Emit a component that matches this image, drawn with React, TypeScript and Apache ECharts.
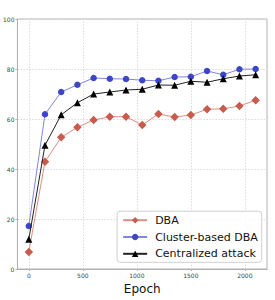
import React, { useEffect, useRef } from "react";
import * as echarts from "echarts";

const epochs = [0, 150, 300, 450, 600, 750, 900, 1050, 1200, 1350, 1500, 1650, 1800, 1950, 2100];
const dba = [6.8, 42.9, 52.7, 56.7, 59.6, 60.9, 60.9, 57.6, 62.0, 60.8, 61.6, 63.9, 64.1, 65.2, 67.5];
const clusterDba = [17.2, 61.9, 70.8, 73.7, 76.4, 76.1, 76.0, 75.5, 75.3, 76.8, 76.9, 79.2, 77.7, 79.9, 80.0];
const centralized = [11.9, 49.5, 61.7, 66.5, 70.0, 70.8, 71.6, 71.9, 73.6, 73.5, 75.1, 74.7, 76.1, 77.2, 77.7];
const xTicks = [0, 500, 1000, 1500, 2000];
const seriesNames = ["DBA", "Cluster-based DBA", "Centralized attack"];

const pairs = (ys: number[]) => epochs.map((x, i) => [x, ys[i]]);

export default function App() {
  const ref = useRef<HTMLDivElement>(null);
  useEffect(() => {
    if (!ref.current) return;
    const chart = echarts.init(ref.current, null, { renderer: "svg" });
    const font = "DejaVu Sans";
    const gridLine = { color: "#dcdcdc", type: [1.5, 1.5] as any, width: 1 };
    chart.setOption({
      animation: false,
      backgroundColor: "#ffffff",
      textStyle: { fontFamily: font },
      grid: {
        left: 15.5,
        top: 19,
        right: 8,
        bottom: 31,
        show: true,
        borderColor: "#b0b0b0",
        borderWidth: 1,
      },
      xAxis: {
        type: "value",
        min: -105,
        max: 2205,
        name: "Epoch",
        nameLocation: "middle",
        nameGap: 7,
        nameTextStyle: { fontSize: 12, color: "#111", fontFamily: font, verticalAlign: "top" },
        axisLine: { show: true, onZero: false, lineStyle: { color: "#b0b0b0", width: 1 } },
        axisTick: { show: true, length: 2, lineStyle: { color: "#b0b0b0" }, customValues: xTicks },
        axisLabel: {
          fontSize: 6,
          color: "#444",
          margin: 3,
          customValues: xTicks,
          formatter: (v: number) => String(v),
        },
        splitLine: { show: false },
      },
      yAxis: {
        type: "value",
        min: 0,
        max: 100,
        interval: 20,
        axisLine: { show: true, onZero: false, lineStyle: { color: "#b0b0b0", width: 1 } },
        axisTick: { show: true, length: 2, lineStyle: { color: "#b0b0b0" } },
        axisLabel: { fontSize: 6, color: "#444", margin: 3 },
        splitLine: { show: true, lineStyle: gridLine },
      },
      legend: {
        orient: "vertical",
        right: 13.3,
        bottom: 37.7,
        padding: [2.5, 4, 2, 5],
        itemGap: 3.8,
        itemWidth: 24,
        itemHeight: 8,
        borderColor: "#d0d0d0",
        borderWidth: 1,
        borderRadius: 3,
        backgroundColor: "rgba(255,255,255,0.85)",
        textStyle: { fontSize: 11, lineHeight: 13, color: "#111", fontFamily: font, padding: [0, 0, 0, 3] },
        data: seriesNames,
      },
      series: [
        {
          name: seriesNames[0],
          type: "line",
          data: pairs(dba),
          symbol: "diamond",
          symbolSize: 8.5,
          itemStyle: { color: "#c95b4d" },
          lineStyle: { color: "#dc8f85", width: 1 },
          z: 2,
          markLine: {
            silent: true,
            symbol: "none",
            label: { show: false },
            lineStyle: gridLine,
            emphasis: { disabled: true },
            data: xTicks.map((v) => ({ xAxis: v })),
            z: 0,
          },
        },
        {
          name: seriesNames[1],
          type: "line",
          data: pairs(clusterDba),
          symbol: "circle",
          symbolSize: 6.5,
          itemStyle: { color: "#3d47c6" },
          lineStyle: { color: "#7f86dc", width: 1 },
          z: 3,
        },
        {
          name: seriesNames[2],
          type: "line",
          data: pairs(centralized),
          symbol: "triangle",
          symbolSize: 7,
          itemStyle: { color: "#000000" },
          lineStyle: { color: "#222222", width: 1 },
          z: 4,
        },
      ],
    });
    return () => chart.dispose();
  }, []);
  return (
    <div
      ref={ref}
      style={{ position: "fixed", left: 0, top: 0, width: 275, height: 300 }}
    />
  );
}
